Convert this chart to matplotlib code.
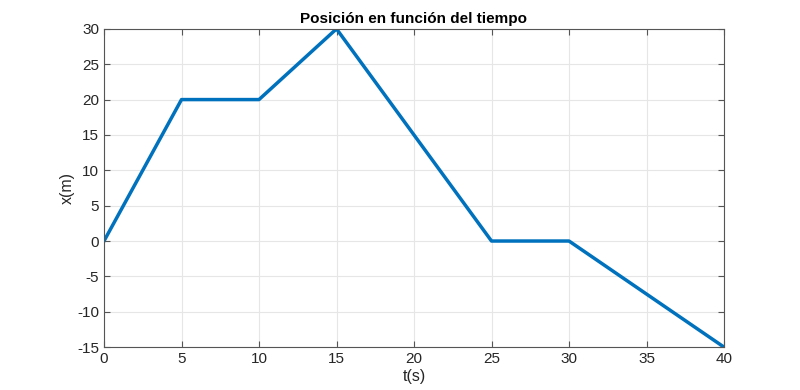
import matplotlib
matplotlib.use('Agg')
import matplotlib.pyplot as plt

# Datos
t = [0, 5, 10, 15, 25, 30, 40]
x = [0, 20, 20, 30, 0, 0, -15]
xticks = [0, 5, 10, 15, 20, 25, 30, 35, 40]
yticks = [-15, -10, -5, 0, 5, 10, 15, 20, 25, 30]

plt.rcParams['font.family'] = ['Liberation Sans', 'DejaVu Sans']
plt.rcParams['axes.unicode_minus'] = False

fig = plt.figure(figsize=(8, 3.9), dpi=100)
ax = fig.add_axes([0.13, 0.110, 0.775, 0.816])

ax.plot(t, x, color='#0072BD', linewidth=2.5)

ax.set_xlim(0, 40)
ax.set_ylim(-15, 30)
ax.set_xticks(xticks)
ax.set_yticks(yticks)
ax.grid(True, color='#e6e6e6', linewidth=0.8)
ax.set_axisbelow(True)
ax.tick_params(direction='in', length=4, width=0.8, color='#555555', labelcolor='#262626',
               labelsize=11, top=True, right=True, labeltop=False, labelright=False)
for s in ax.spines.values():
    s.set_color('#555555')
    s.set_linewidth(0.8)

ax.set_title('Posición en función del tiempo', fontsize=11, fontweight='bold', pad=4)
ax.set_xlabel('t(s)', fontsize=11.5, color='#262626', labelpad=2)
ax.set_ylabel('x(m)', fontsize=11.5, color='#262626', labelpad=2)

fig.savefig('out.png', dpi=100)
